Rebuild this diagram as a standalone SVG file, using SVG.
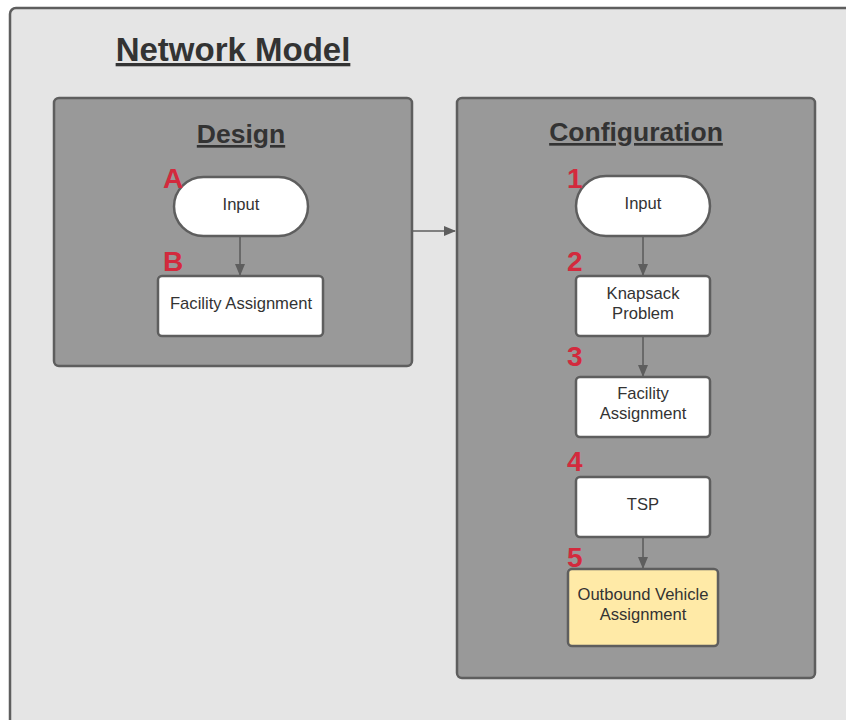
<svg xmlns="http://www.w3.org/2000/svg" width="846" height="720" viewBox="0 0 846 720">
<style>
.title{font-family:"Liberation Sans",Arial,sans-serif;font-weight:bold;fill:#333;text-decoration:underline;text-anchor:middle}
.panel{fill:#999;stroke:#5e5e5e;stroke-width:2.5}
.node{fill:#fff;stroke:#5e5e5e;stroke-width:2.5}
.hl{fill:#ffeaa7}
.lbl{font-family:"Liberation Sans",Arial,sans-serif;font-size:16.6px;fill:#333;text-anchor:middle}
.num{font-family:"Liberation Sans",Arial,sans-serif;font-size:28px;font-weight:bold;fill:#d32a3d}
.conn{stroke:#5e5e5e;stroke-width:1.6;fill:none;marker-end:url(#ah)}
</style>
<defs>
<marker id="ah" markerWidth="12" markerHeight="10" refX="11" refY="5" orient="auto" markerUnits="userSpaceOnUse">
<path d="M0,0 L12,5 L0,10 Z" fill="#5e5e5e"/>
</marker>
</defs>
<rect width="846" height="720" fill="#fff"/>
<g id="network-model">
<rect x="10" y="8" width="860" height="740" rx="6" fill="#e5e5e5" stroke="#5e5e5e" stroke-width="2.5"/>
<text class="title" x="233" y="61" font-size="33">Network Model</text>
</g>
<g id="design">
<rect class="panel" x="54" y="98" width="358" height="268" rx="5"/>
<text class="title" x="241" y="143" font-size="26.5">Design</text>
</g>
<g id="configuration">
<rect class="panel" x="457" y="98" width="358" height="580" rx="5"/>
<text class="title" x="636" y="141" font-size="26.5">Configuration</text>
</g>
<g id="connectors">
<line class="conn" x1="240" y1="237" x2="240" y2="275"/>
<line class="conn" x1="413" y1="231" x2="455" y2="231"/>
<line class="conn" x1="643" y1="236" x2="643" y2="275"/>
<line class="conn" x1="643" y1="336" x2="643" y2="376"/>
<line class="conn" x1="643" y1="537" x2="643" y2="568"/>
</g>
<g id="design-input">
<rect class="node" x="174" y="177" width="134" height="59" rx="29.5"/>
<text class="lbl" x="241" y="210">Input</text>
<text class="num" x="163" y="188">A</text>
</g>
<g id="design-facility">
<rect class="node" x="158" y="276" width="165" height="60" rx="4"/>
<text class="lbl" x="241" y="309">Facility Assignment</text>
<text class="num" x="163" y="271">B</text>
</g>
<g id="config-input">
<rect class="node" x="576" y="176" width="134" height="60" rx="30"/>
<text class="lbl" x="643" y="209">Input</text>
<text class="num" x="567" y="188">1</text>
</g>
<g id="knapsack">
<rect class="node" x="576" y="276" width="134" height="60" rx="4"/>
<text class="lbl" x="643" y="299">Knapsack</text>
<text class="lbl" x="643" y="319">Problem</text>
<text class="num" x="567" y="271">2</text>
</g>
<g id="config-facility">
<rect class="node" x="576" y="377" width="134" height="60" rx="4"/>
<text class="lbl" x="643" y="399">Facility</text>
<text class="lbl" x="643" y="419">Assignment</text>
<text class="num" x="567" y="366">3</text>
</g>
<g id="tsp">
<rect class="node" x="576" y="477" width="134" height="60" rx="4"/>
<text class="lbl" x="643" y="510">TSP</text>
<text class="num" x="567" y="471">4</text>
</g>
<g id="outbound">
<rect class="node hl" x="568" y="569" width="150" height="77" rx="4"/>
<text class="lbl" x="643" y="600">Outbound Vehicle</text>
<text class="lbl" x="643" y="620">Assignment</text>
<text class="num" x="567" y="567">5</text>
</g>
</svg>
